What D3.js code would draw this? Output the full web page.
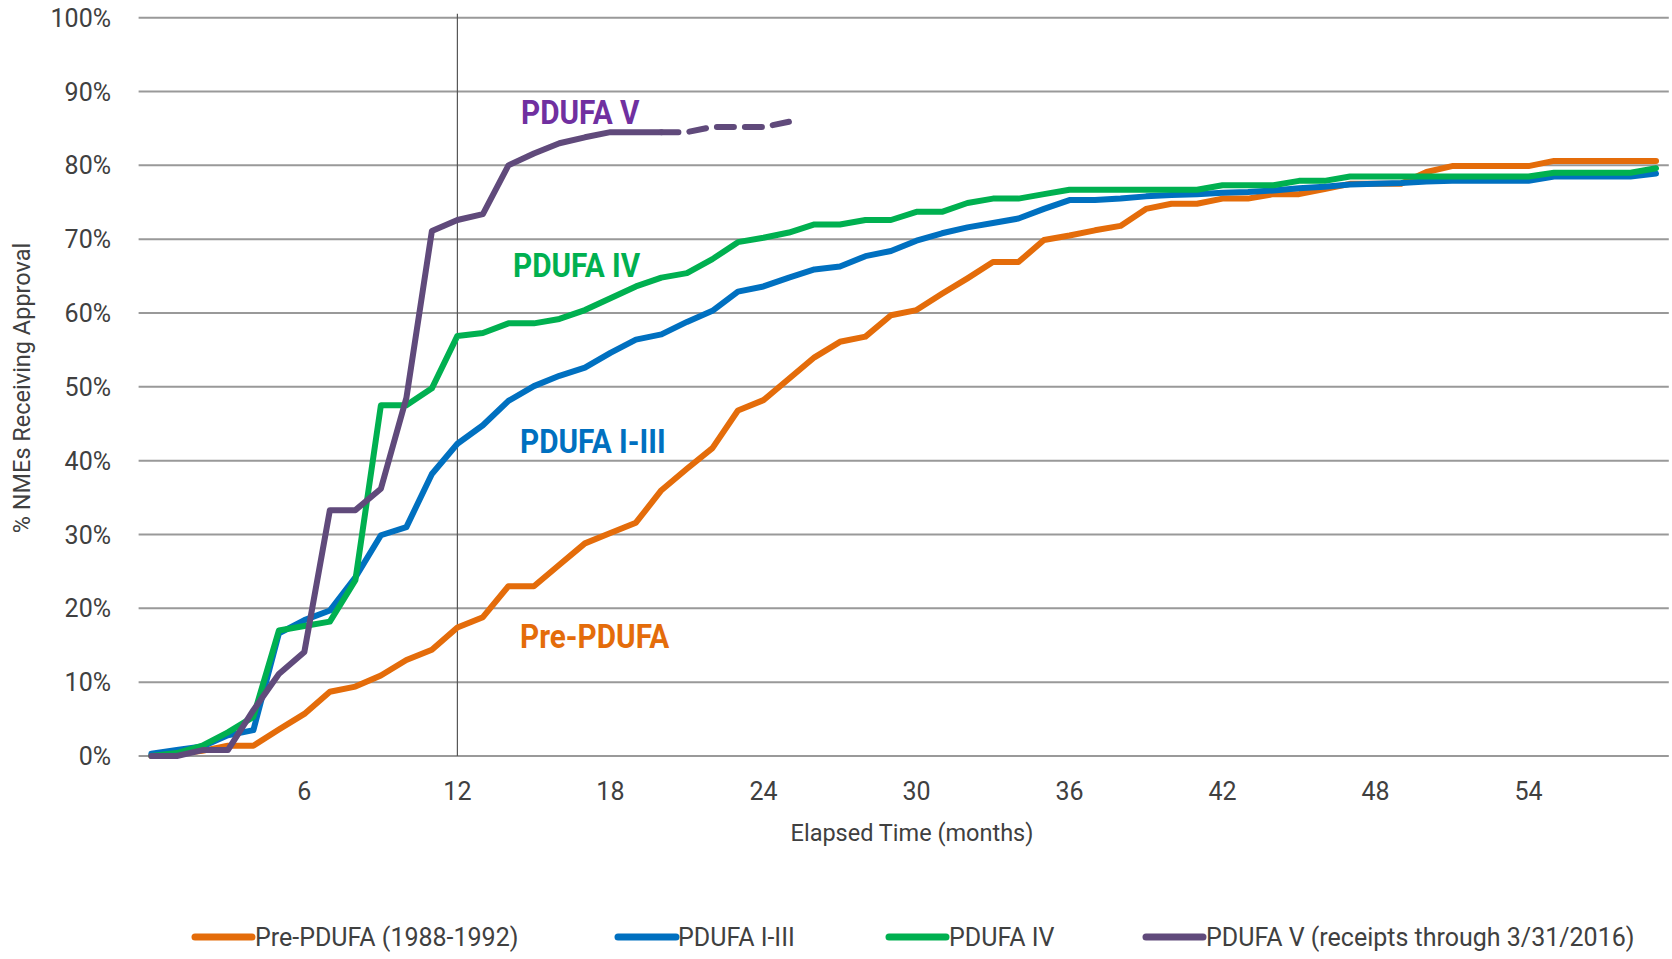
<!DOCTYPE html>
<html><head><meta charset="utf-8">
<script src="https://cdn.jsdelivr.net/npm/d3@7"></script>
<style>body{margin:0;background:#fff;} svg{display:block;}</style>
</head><body>
<svg id="chart" width="1672" height="959"></svg>
<script>
// ---- data ----
const months = d3.range(0, 60);
const preValues = [0,0.3,0.7,1.4,1.4,3.6,5.7,8.7,9.4,10.9,13.0,14.4,17.4,18.8,23.0,23.0,25.9,28.8,30.2,31.6,36.0,38.9,41.7,46.8,48.2,51.1,54.0,56.1,56.8,59.7,60.4,62.6,64.7,66.9,66.9,69.9,70.5,71.2,71.8,74.1,74.8,74.8,75.5,75.5,76.1,76.1,76.8,77.5,77.5,77.5,79.1,79.9,79.9,79.9,79.9,80.6,80.6,80.6,80.6,80.6];
const pdufa13Values = [0.3,0.8,1.3,2.8,3.5,16.6,18.4,19.7,24.2,29.9,31.0,38.2,42.3,44.8,48.1,50.1,51.5,52.6,54.6,56.4,57.1,58.8,60.3,62.9,63.6,64.8,65.9,66.3,67.7,68.4,69.8,70.8,71.6,72.2,72.8,74.1,75.3,75.3,75.5,75.8,76.0,76.1,76.3,76.4,76.6,76.9,77.1,77.4,77.5,77.6,77.8,77.9,77.9,77.9,77.9,78.5,78.5,78.5,78.5,78.9];
const pdufa4Values = [0,0.4,1.4,3.2,5.3,17.0,17.6,18.2,23.8,47.5,47.5,49.8,56.9,57.3,58.6,58.6,59.2,60.4,62.0,63.6,64.8,65.4,67.3,69.6,70.2,70.9,72.0,72.0,72.6,72.6,73.7,73.7,74.9,75.5,75.5,76.1,76.7,76.7,76.7,76.7,76.7,76.7,77.3,77.3,77.3,77.9,77.9,78.5,78.5,78.5,78.5,78.5,78.5,78.5,78.5,79.0,79.0,79.0,79.0,79.6];
const pdufa5Values = [0,0,0.8,0.8,6.2,11.1,14.1,33.3,33.3,36.2,48.5,71.1,72.6,73.4,80.0,81.6,83.0,83.8,84.5,84.5,84.5,84.5,85.2,85.2,85.2,85.9];
const pdufa5SolidEnd = 20; // month after which the line is dashed
const yTicks = [0,10,20,30,40,50,60,70,80,90,100];
const xTickLabels = [6,12,18,24,30,36,42,48,54];
const markerMonth = 12;
const seriesNames = ["Pre-PDUFA (1988-1992)","PDUFA I-III","PDUFA IV","PDUFA V (receipts through 3/31/2016)"];
const seriesShort = ["Pre-PDUFA","PDUFA I-III","PDUFA IV","PDUFA V"];
const seriesColors = ["#E46C0A","#0070C0","#00B050","#604A7B"];
const labelColors = ["#E46C0A","#0070C0","#00B050","#7030A0"];

// ---- layout ----
const plotL = 138.6, plotR = 1668.8, plotT = 17.7, plotB = 756;
const svg = d3.select("#chart");
const x = d3.scaleLinear().domain([-0.5, 59.5]).range([plotL, plotR]);
const y = d3.scaleLinear().domain([0, 100]).range([plotB, plotT]);
const textColor = "#404040";
const regFont = "Roboto, 'Liberation Sans', sans-serif";
const boldFont = "Roboto, 'Liberation Sans', sans-serif";

// gridlines
svg.append("g").selectAll("line").data(yTicks).join("line")
  .attr("x1", plotL).attr("x2", plotR)
  .attr("y1", d => y(d)).attr("y2", d => y(d))
  .attr("stroke", "#999").attr("stroke-width", 2);

// y tick labels
svg.append("g").selectAll("text").data(yTicks).join("text")
  .attr("x", 111).attr("y", d => y(d)).attr("dy", "0.36em")
  .attr("text-anchor", "end").attr("font-family", regFont).attr("font-size", 25)
  .attr("fill", textColor).text(d => d + "%");

// x tick labels
svg.append("g").selectAll("text").data(xTickLabels).join("text")
  .attr("x", d => x(d)).attr("y", 791).attr("dy", "0.36em")
  .attr("text-anchor", "middle").attr("font-family", regFont).attr("font-size", 25)
  .attr("fill", textColor).text(d => d);

// vertical 12-month line
svg.append("line")
  .attr("x1", x(markerMonth)).attr("x2", x(markerMonth))
  .attr("y1", plotT - 4).attr("y2", plotB)
  .attr("stroke", "#555").attr("stroke-width", 1.2);

// axis titles
svg.append("text").attr("x", 912).attr("y", 833).attr("dy", "0.36em")
  .attr("text-anchor", "middle").attr("font-family", regFont).attr("font-size", 23.5)
  .attr("fill", textColor).text("Elapsed Time (months)");
svg.append("text").attr("transform", "translate(22,388) rotate(-90)").attr("dy", "0.36em")
  .attr("text-anchor", "middle").attr("font-family", regFont).attr("font-size", 23.5)
  .attr("fill", textColor).text("% NMEs Receiving Approval");

// lines
const line = d3.line().x(d => x(d.m)).y(d => y(d.v));
const toPts = arr => arr.map((v, i) => ({m: months[i], v}));
const allSeries = [preValues, pdufa13Values, pdufa4Values];
const lg = svg.append("g").attr("fill", "none").attr("stroke-width", 6)
  .attr("stroke-linejoin", "round").attr("stroke-linecap", "round");
allSeries.forEach((s, i) => {
  lg.append("path").attr("d", line(toPts(s))).attr("stroke", seriesColors[i]);
});
const p5 = toPts(pdufa5Values);
lg.append("path").attr("d", line(p5.filter(d => d.m <= pdufa5SolidEnd))).attr("stroke", seriesColors[3]);
lg.append("path").attr("d", line(p5.filter(d => d.m >= pdufa5SolidEnd)))
  .attr("stroke", seriesColors[3]).attr("stroke-dasharray", "17,11");

// series labels (condensed bold)
const labelPos = [[520, 648], [520, 453], [513, 277], [521, 124]];
svg.append("g").selectAll("text").data(seriesShort).join("text")
  .attr("transform", (d, i) => `translate(${labelPos[i][0]},${labelPos[i][1]}) scale(0.875,1)`)
  .attr("font-family", boldFont).attr("font-weight", "bold").attr("font-size", 34)
  .attr("fill", (d, i) => labelColors[i]).text(d => d);

// legend
const legX = [[195, 252, 255], [618, 676, 678], [889, 946, 949], [1146, 1203, 1206]];
const leg = svg.append("g");
seriesNames.forEach((n, i) => {
  leg.append("line").attr("x1", legX[i][0]).attr("x2", legX[i][1]).attr("y1", 937).attr("y2", 937)
    .attr("stroke", seriesColors[i]).attr("stroke-width", 7).attr("stroke-linecap", "round");
  leg.append("text").attr("x", legX[i][2]).attr("y", 937).attr("dy", "0.36em")
    .attr("font-family", regFont).attr("font-size", 25).attr("fill", textColor).text(n);
});
</script>
</body></html>
